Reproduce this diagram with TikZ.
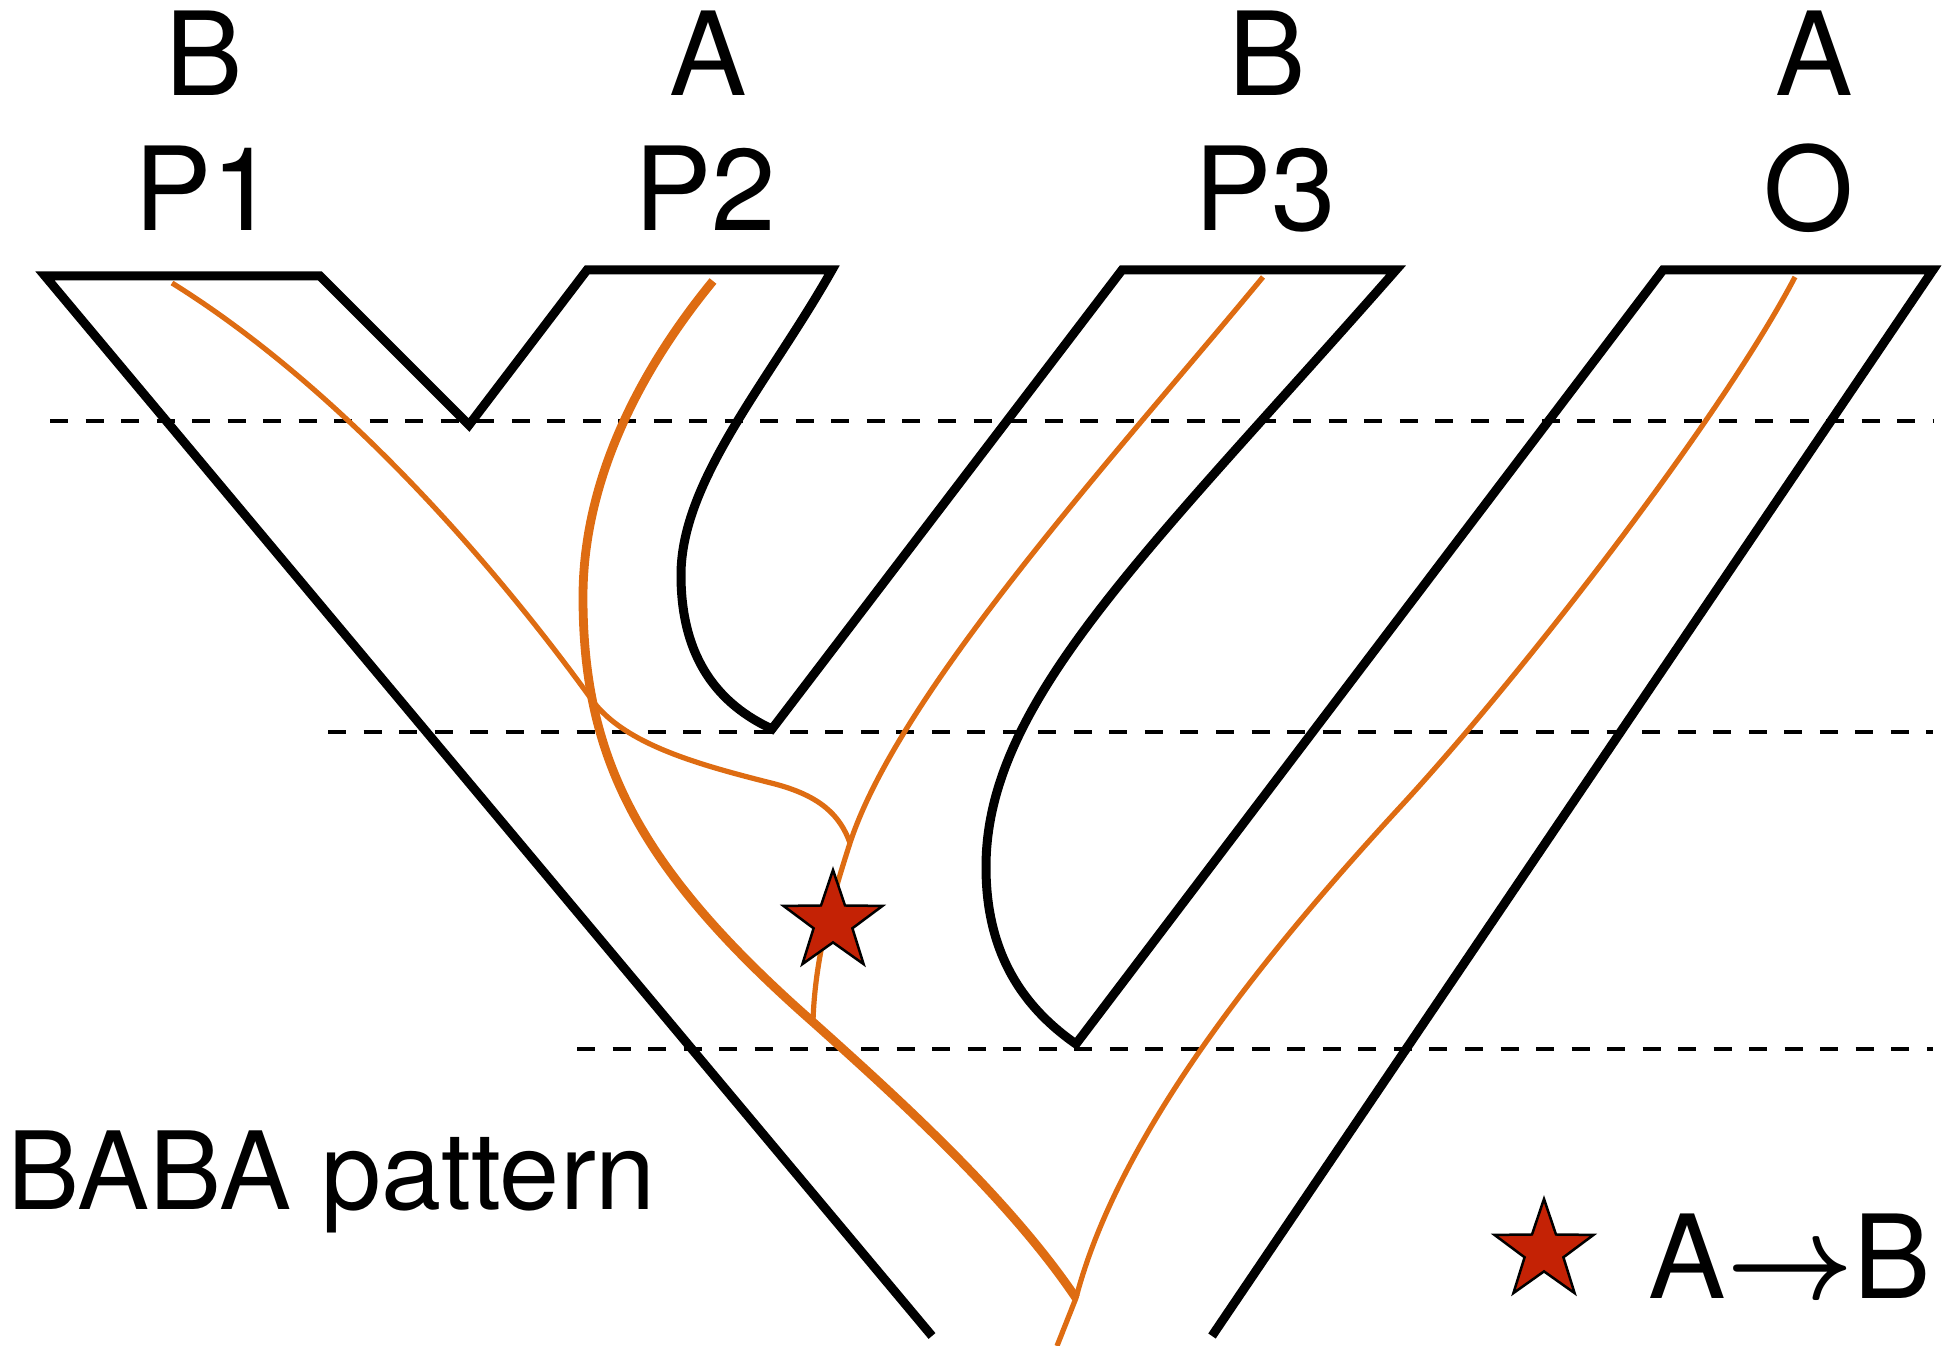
\documentclass[tikz,border=0pt]{standalone}
\usepackage{fontspec}
\setmainfont{TeX Gyre Heros}
\usetikzlibrary{shapes.geometric}
\definecolor{geneorange}{RGB}{222,108,18}
\definecolor{mutred}{RGB}{196,34,5}
\newcommand{\bigarrow}{{\fontsize{10}{12}\selectfont\boldmath\scalebox{3.15}[3.4]{\(\rightarrow\)}}}
\tikzset{
  species/.style={line width=0.09cm, black},
  genethin/.style={line width=0.052cm, geneorange},
  genethick/.style={line width=0.088cm, geneorange},
  timeline/.style={line width=0.035cm, dash pattern=on 0.18cm off 0.175cm},
  poplabel/.style={anchor=base, inner sep=0pt, font=\fontsize{33}{40}\selectfont},
  mutstar/.style={star, star points=5, star point ratio=2.55, minimum size=1.04cm,
    inner sep=0pt, draw=black, line width=0.025cm, fill=mutred}
}
\begin{document}
\begin{tikzpicture}[x=0.01cm, y=-0.01cm] % 1 unit = 1 px of the picture
    \useasboundingbox (0,0) rectangle (1953,1346);
    % 1. 定义坐标 (species tree)
    \coordinate (P1l) at (45,276);
    \coordinate (P1r) at (320,276);
    \coordinate (V)   at (469,425);
    \coordinate (P2l) at (587,270);
    \coordinate (P2r) at (832,270);
    \coordinate (N12) at (772,729);
    \coordinate (P3l) at (1122,270);
    \coordinate (P3r) at (1396,270);
    \coordinate (N123) at (1076,1044);
    \coordinate (Ol)  at (1663,270);
    \coordinate (Or)  at (1933,270);
    \coordinate (Bl)  at (932,1336);
    \coordinate (Br)  at (1212,1336);
    % 2. 时间虚线
    \foreach \y/\xs in {421/50, 732/328, 1049/577}
        \draw[timeline] (\xs,\y) -- (1933,\y);
    % 3. 物种树轮廓
    \draw[species] (Bl) -- (P1l) -- (P1r) -- (V) -- (P2l) -- (P2r)
        .. controls (770,380) and (681,480) .. (681,575)
        .. controls (681,660) and (720,705) .. (N12)
        -- (P3l) -- (P3r)
        .. controls (1150,550) and (986,700) .. (986,867)
        .. controls (986,950) and (1020,1005) .. (N123)
        -- (Ol) -- (Or) -- (Br);
    % 4. 基因树 (orange)
    \coordinate (j1) at (850,843);  % P1 lineage joins P3 lineage
    \coordinate (j2) at (813,1021); % joins P2 lineage
    \coordinate (j3) at (1076,1298);% joins O lineage
    \draw[genethin] (172,283) .. controls (360,400) and (520,600) .. (592,700)
        .. controls (625,745) and (700,765) .. (775,784)
        .. controls (820,796) and (840,815) .. (j1);
    \draw[genethick] (713,281) .. controls (640,370) and (583,480) .. (583,597)
        .. controls (583,760) and (640,870) .. (814,1023)
        .. controls (900,1100) and (1010,1200) .. (j3);
    \draw[genethin] (1263,277) .. controls (1120,450) and (900,690) .. (j1)
        .. controls (830,905) and (815,960) .. (j2);
    \draw[genethin] (1795,277) .. controls (1720,420) and (1520,677) .. (1402,805)
        .. controls (1270,948) and (1120,1130) .. (j3) -- (1057,1346);
    % 5. 突变 star
    \node[mutstar] (mut) at (833,922) {};
    % 6. 标签
    \node[poplabel] (aP1) at (204,96) {B};
    \node[poplabel] (aP2) at (708,96) {A};
    \node[poplabel] (aP3) at (1267,96) {B};
    \node[poplabel] (aO)  at (1814,96) {A};
    \node[poplabel] (nP1) at (205,231) {P1};
    \node[poplabel] (nP2) at (705,231) {P2};
    \node[poplabel] (nP3) at (1265,231) {P3};
    \node[poplabel] (nO)  at (1809,231) {O};
    \node[anchor=base west, inner sep=0pt, font=\fontsize{30.7}{36}\selectfont]
        (pattern) at (7,1210) {BABA pattern};
    % 7. 图例
    \node[mutstar] (legstar) at (1544,1251) {};
    \node[poplabel, anchor=base west] (legtext) at (1648,1298) {A\bigarrow B};
\end{tikzpicture}
\end{document}
